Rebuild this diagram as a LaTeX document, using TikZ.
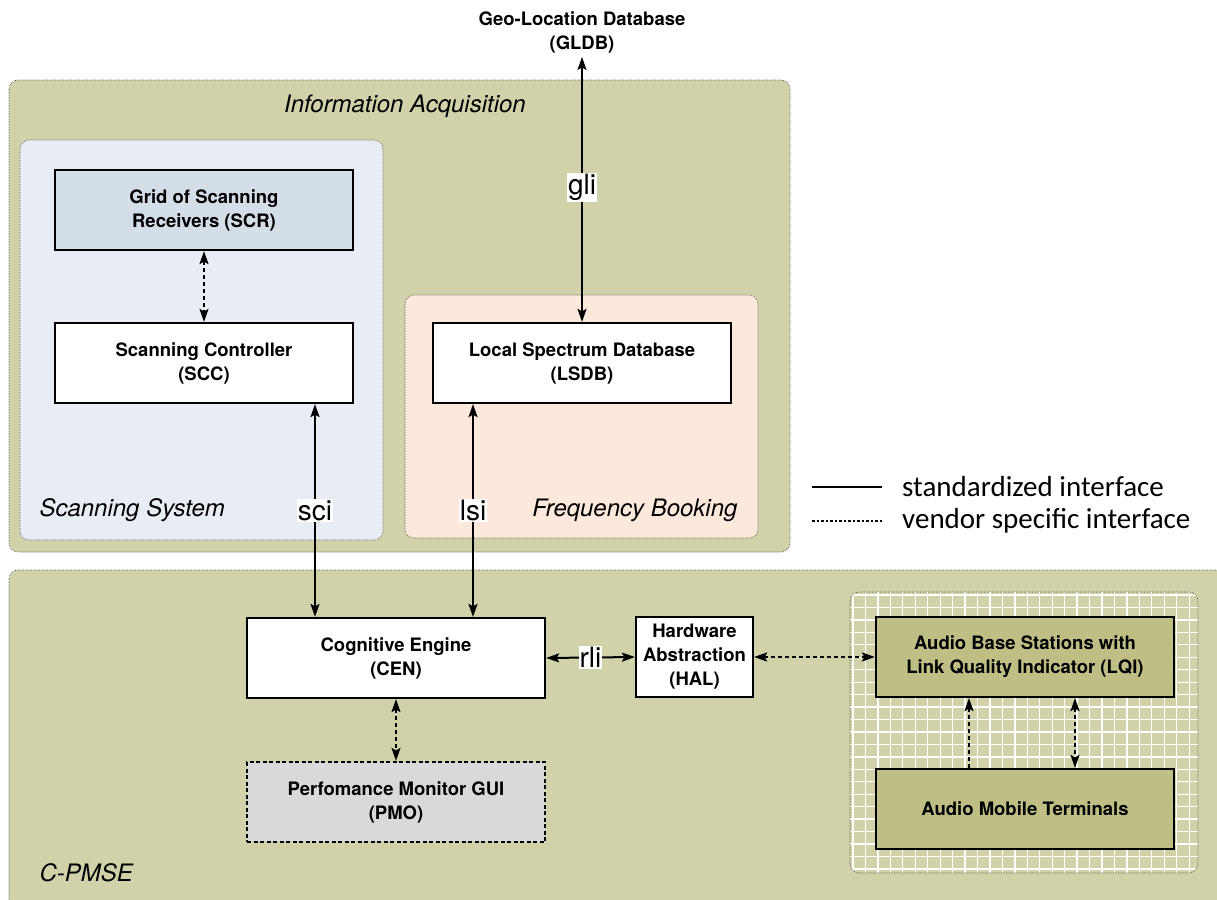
\documentclass[tikz,border=0pt]{standalone}
\usepackage{fontspec}
\setmainfont{TeX Gyre Heros}
\newfontfamily\legendfont{Carlito}
\usetikzlibrary{arrows.meta}
\definecolor{olivebg}{HTML}{D1D2AA}
\definecolor{olivebox}{HTML}{BFBE85}
\definecolor{scanbg}{HTML}{E8EDF5}
\definecolor{scrfill}{HTML}{D4DEE9}
\definecolor{freqbg}{HTML}{FCE9DB}
\definecolor{pmofill}{HTML}{D9D9D9}
\tikzset{
  area/.style={draw=black!75, line width=0.6pt, densely dotted, rounded corners=9pt},
  blockbox/.style={draw=black, line width=2.2pt, minimum width=298pt, minimum height=80pt,
    align=center, font=\fontsize{18.5}{24}\selectfont\bfseries, inner sep=2pt},
  areatitle/.style={font=\fontsize{24}{28}\selectfont\itshape},
  iflabel/.style={fill=white, inner sep=1pt, font=\fontsize{28}{30}\selectfont},
  stdlink/.style={line width=2pt, {Stealth[length=13pt,width=9pt,inset=2.5pt]}-{Stealth[length=13pt,width=9pt,inset=2.5pt]}},
  vendlink/.style={line width=2pt, dash pattern=on 4pt off 3pt,
    {Stealth[length=13pt,width=9pt,inset=2.5pt]}-{Stealth[length=13pt,width=9pt,inset=2.5pt]}},
  vendone/.style={line width=2pt, dash pattern=on 4pt off 3pt, -{Stealth[length=13pt,width=9pt,inset=2.5pt]}},
  legendtext/.style={anchor=west, font=\legendfont\fontsize{29}{32}\selectfont, inner sep=0pt}
}
\begin{document}
\begin{tikzpicture}[x=1pt, y=-1pt]
\useasboundingbox (0,0) rectangle (1217,899);
\clip (0,0) rectangle (1217,899);

% outer areas
\path[area, fill=olivebg] (9,80) rectangle (790,552);
\node[areatitle] (tInfo) at (405,106) {Information Acquisition};
\path[area, fill=olivebg] (9,570) rectangle (1240,920);
\node[areatitle, anchor=west] (tCpmse) at (36,873) {C-PMSE};

% scanning system
\path[area, fill=scanbg] (20,140) rectangle (383,540);
\node[areatitle, anchor=west] (tScan) at (36,510) {Scanning System};
% frequency booking
\path[area, fill=freqbg] (405,295) rectangle (758,538);
\node[areatitle, anchor=east] (tFreq) at (741,510) {Frequency Booking};

% grid area for the audio equipment
\begin{scope}
  \clip[rounded corners=9pt] (850,592) rectangle (1198,873);
  \fill[olivebg] (850,592) rectangle (1198,873);
  \foreach \gx in {0,...,28} {\draw[white, line width=1.3pt] (853+\gx*12.45,590) -- (853+\gx*12.45,875);}
  \foreach \gy in {0,...,23} {\draw[white, line width=1.3pt] (848,595+\gy*12.45) -- (1200,595+\gy*12.45);}
\end{scope}
\path[area] (850,592) rectangle (1198,873);

% blocks
\node[blockbox, fill=scrfill] (SCR) at (204,210) {Grid of Scanning\\Receivers (SCR)};
\node[blockbox, fill=white] (SCC) at (204,363) {Scanning Controller\\(SCC)};
\node[blockbox, fill=white] (LSDB) at (582,363) {Local Spectrum Database\\(LSDB)};
\node[blockbox, fill=white] (CEN) at (396,658) {Cognitive Engine\\(CEN)};
\node[blockbox, fill=white, minimum width=117pt] (HAL) at (694.5,657) {Hardware\\Abstraction\\(HAL)};
\node[blockbox, fill=olivebox] (ABS) at (1025,657) {Audio Base Stations with\\Link Quality Indicator (LQI)};
\node[blockbox, fill=olivebox] (AMT) at (1025,809) {Audio Mobile Terminals};
\node[blockbox, fill=pmofill, dash pattern=on 4pt off 2.5pt] (PMO) at (396,802) {Perfomance Monitor GUI\\(PMO)};
\node[font=\fontsize{18.5}{24}\selectfont\bfseries, align=center, inner sep=0pt] (GLDB) at (582,32) {Geo-Location Database\\(GLDB)};

% interfaces
\draw[stdlink, shorten <=4pt] (GLDB.south) -- (LSDB.north) node[iflabel, midway] (lgli) {gli};
\draw[vendlink] (SCR.south) -- (SCC.north);
\draw[stdlink] ([xshift=111pt]SCC.south) -- ([xshift=111pt]SCC.south |- CEN.north)
  node[iflabel, midway] (lsci) {sci};
\draw[stdlink] ([xshift=-109pt]LSDB.south) -- ([xshift=-109pt]LSDB.south |- CEN.north)
  node[iflabel, midway] (llsi) {lsi};
\draw[stdlink] (CEN.east) -- (HAL.west) node[iflabel, midway] (lrli) {rli};
\draw[vendlink] (HAL.east) -- (ABS.west);
\draw[vendlink] (CEN.south) -- (PMO.north);
\draw[vendone] ([xshift=-56pt]AMT.north) -- ([xshift=-56pt]ABS.south);
\draw[vendlink] ([xshift=50pt]ABS.south) -- ([xshift=50pt]AMT.north);

% legend
\coordinate (lgA1) at (812,487);
\coordinate (lgA2) at (882,487);
\coordinate (lgB1) at (812,521);
\coordinate (lgB2) at (882,521);
\draw[line width=2pt] (lgA1) -- (lgA2);
\draw[line width=1.4pt, dash pattern=on 2.5pt off 2pt] (lgB1) -- (lgB2);
\node[legendtext] (lgStd) at (902,487) {standardized interface};
\node[legendtext] (lgVen) at (902,521) {vendor specific interface};
\end{tikzpicture}
\end{document}
